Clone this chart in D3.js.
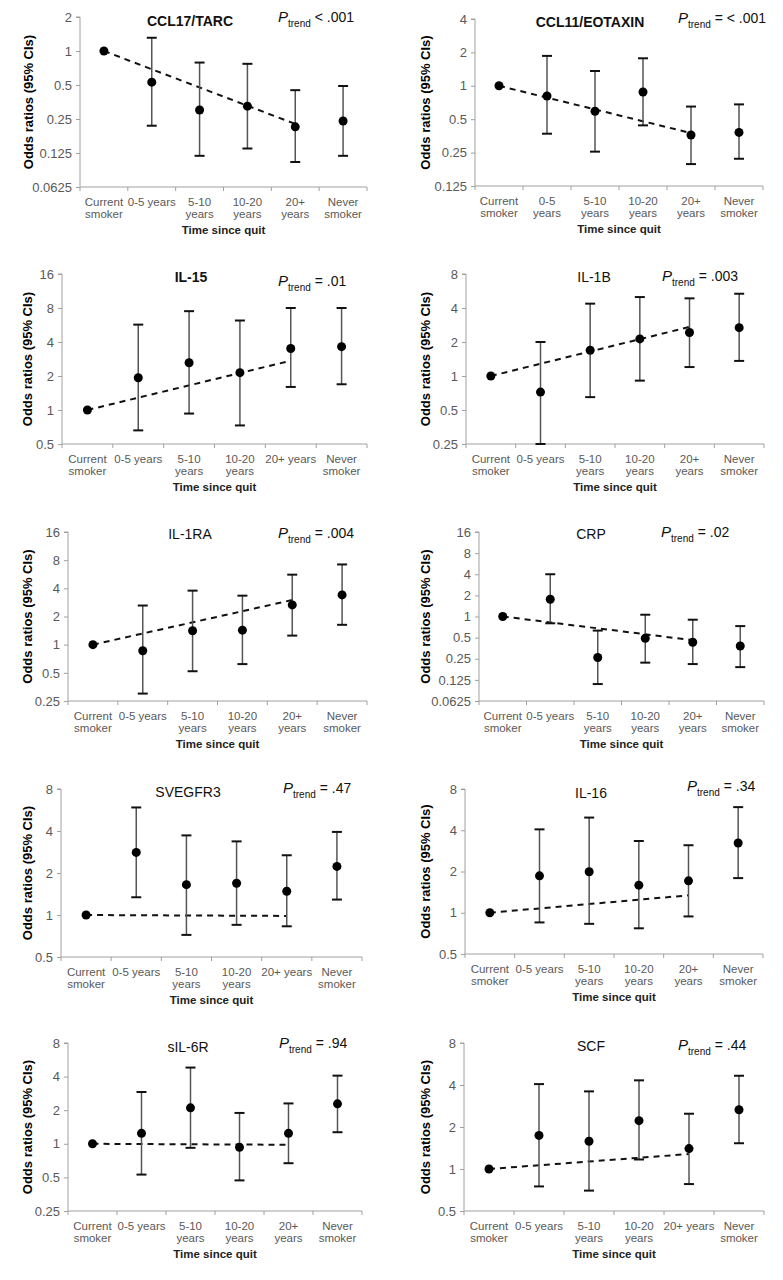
<!DOCTYPE html>
<html><head><meta charset="utf-8">
<script src="https://cdn.jsdelivr.net/npm/d3@7"></script>
<style>body{margin:0;background:#fff}svg{display:block;font-family:"Liberation Sans",Arial,sans-serif}</style>
</head><body><svg id="c" width="783" height="1280"></svg>
<script>
const categories = ["Current smoker","0-5 years","5-10 years","10-20 years","20+ years","Never smoker"];
const tickValues = [0.0625,0.125,0.25,0.5,1,2,4,8,16];
const tickLabels = ["0.0625","0.125","0.25","0.5","1","2","4","8","16"];

const ccl17_or = [1,0.53,0.30,0.325,0.213,0.24];
const ccl17_lo = [null,0.218,0.118,0.137,0.104,0.118];
const ccl17_hi = [null,1.31,0.79,0.77,0.45,0.49];
const ccl17_trend = [1,0.226];

const ccl11_or = [1,0.81,0.59,0.88,0.36,0.38];
const ccl11_lo = [null,0.37,0.255,0.44,0.197,0.22];
const ccl11_hi = [null,1.86,1.36,1.77,0.65,0.68];
const ccl11_trend = [1,0.375];

const il15_or = [1,1.93,2.62,2.14,3.5,3.64];
const il15_lo = [null,0.66,0.93,0.73,1.6,1.69];
const il15_hi = [null,5.7,7.5,6.2,8.0,8.0];
const il15_trend = [1,2.73];

const il1b_or = [1,0.72,1.69,2.13,2.43,2.68];
const il1b_lo = [null,0.25,0.65,0.91,1.2,1.36];
const il1b_hi = [null,2.0,4.37,5.0,4.87,5.35];
const il1b_trend = [1,2.72];

const il1ra_or = [1,0.86,1.41,1.43,2.66,3.4];
const il1ra_lo = [null,0.30,0.52,0.62,1.25,1.63];
const il1ra_hi = [null,2.62,3.78,3.34,5.6,7.2];
const il1ra_trend = [1,3.0];

const crp_or = [1,1.76,0.26,0.49,0.43,0.38];
const crp_lo = [null,0.80,0.109,0.22,0.21,0.19];
const crp_hi = [null,4.0,0.63,1.06,0.90,0.73];
const crp_trend = [1,0.46];

const svegfr3_or = [1,2.81,1.65,1.69,1.48,2.23];
const svegfr3_lo = [null,1.34,0.72,0.85,0.83,1.29];
const svegfr3_hi = [null,5.9,3.72,3.37,2.68,3.94];
const svegfr3_trend = [1,0.985];

const il16_or = [1,1.86,1.99,1.59,1.71,3.23];
const il16_lo = [null,0.85,0.83,0.77,0.94,1.79];
const il16_hi = [null,4.06,4.95,3.34,3.11,5.9];
const il16_trend = [1,1.34];

const sil6r_or = [1,1.24,2.10,0.93,1.24,2.28];
const sil6r_lo = [null,0.53,0.92,0.47,0.67,1.27];
const sil6r_hi = [null,2.91,4.82,1.89,2.3,4.08];
const sil6r_trend = [1,0.98];

const scf_or = [1,1.74,1.58,2.22,1.40,2.66];
const scf_lo = [null,0.75,0.70,1.17,0.78,1.53];
const scf_hi = [null,4.06,3.6,4.32,2.49,4.66];
const scf_trend = [1,1.28];

const names = ["CCL17/TARC","CCL11/EOTAXIN","IL-15","IL-1B","IL-1RA","CRP","SVEGFR3","IL-16","sIL-6R","SCF"];
const pTexts = ["< .001","= < .001","= .01","= .003","= .004","= .02","= .47","= .34","= .94","= .44"];
const yDomains = [[0.0625,2],[0.125,4],[0.5,16],[0.25,8],[0.25,16],[0.0625,16],[0.5,8],[0.5,8],[0.25,8],[0.5,8]];
const singleLine = [["0-5 years"],[],["0-5 years","20+ years"],["0-5 years"],["0-5 years"],["0-5 years"],["0-5 years","20+ years"],["0-5 years"],["0-5 years"],["0-5 years","20+ years"]];

const series = [
  [ccl17_or,ccl17_lo,ccl17_hi,ccl17_trend],
  [ccl11_or,ccl11_lo,ccl11_hi,ccl11_trend],
  [il15_or,il15_lo,il15_hi,il15_trend],
  [il1b_or,il1b_lo,il1b_hi,il1b_trend],
  [il1ra_or,il1ra_lo,il1ra_hi,il1ra_trend],
  [crp_or,crp_lo,crp_hi,crp_trend],
  [svegfr3_or,svegfr3_lo,svegfr3_hi,svegfr3_trend],
  [il16_or,il16_lo,il16_hi,il16_trend],
  [sil6r_or,sil6r_lo,sil6r_hi,sil6r_trend],
  [scf_or,scf_lo,scf_hi,scf_trend]
];

// layout: [left, right, top, bottom, yTitleX, titleX, titleY, pX, pY, bold]
const layout = [
  [80,367,17,187,28,190,26,278,22,true],
  [475,763,19,186,425,590,27,678,23,true],
  [62,367,274,444,27,191,282,278,286,true],
  [466,764,274,444,425,594,282,662,281,false],
  [68,367,532,701,27,190,539,278,538,false],
  [479,764,532,701,425,591,539,661,537,false],
  [61,362,789,957,27,188,797,283,793,false],
  [465,763,789,954,425,591,798,687,791,false],
  [68,362,1043,1211,27,188,1052,279,1048,false],
  [464,764,1043,1211,425,591,1051,678,1050,false]
];

const svg = d3.select("#c");
const axisCol = "#a0a0a0", tickCol = "#595959";

series.forEach((s, i) => {
  const [L,R,T,B,ytx,tx,ty,px,py,bold] = layout[i];
  const [orv, lov, hiv, tr] = s;
  const g = svg.append("g");
  const x = d3.scaleBand().domain(categories).range([L,R]);
  const y = d3.scaleLog().base(2).domain(yDomains[i]).range([B,T]);
  const ticks = tickValues.filter(v => v >= yDomains[i][0] && v <= yDomains[i][1]);

  // y axis
  const ya = d3.axisLeft(y).tickValues(ticks).tickSize(4).tickPadding(4)
    .tickFormat(v => tickLabels[tickValues.indexOf(v)]);
  const yg = g.append("g").attr("transform",`translate(${L},0)`).call(ya);
  yg.select(".domain").attr("stroke",axisCol).attr("d",`M-4,${T}H0V${B}`);
  yg.selectAll(".tick line").attr("stroke",axisCol);
  yg.selectAll(".tick text").attr("fill",tickCol).attr("font-size",13).attr("font-family","Liberation Sans, Arial, sans-serif");

  // x axis (ticks at band boundaries)
  g.append("line").attr("x1",L).attr("x2",R).attr("y1",B).attr("y2",B).attr("stroke",axisCol);
  const bounds = categories.map(c => x(c) + x.bandwidth()).concat([x(categories[0])]);
  g.selectAll(".xt").data(bounds).join("line")
    .attr("x1",d=>d).attr("x2",d=>d).attr("y1",B).attr("y2",B+4).attr("stroke",axisCol);

  // category labels
  categories.forEach(c => {
    const cx = x(c) + x.bandwidth()/2;
    const t = g.append("text").attr("text-anchor","middle").attr("fill",tickCol).attr("font-size",11.5);
    if (singleLine[i].includes(c)) {
      t.append("tspan").attr("x",cx).attr("y",B+19).text(c);
    } else {
      const parts = c.split(" ");
      t.append("tspan").attr("x",cx).attr("y",B+19).text(parts[0]);
      t.append("tspan").attr("x",cx).attr("y",B+31).text(parts.slice(1).join(" "));
    }
  });
  g.append("text").attr("x",(L+R)/2).attr("y",B+47).attr("text-anchor","middle")
    .attr("font-size",11.5).attr("font-weight","bold").attr("fill","#222").text("Time since quit");

  // y title
  g.append("text").attr("transform",`translate(${ytx},${(T+B)/2}) rotate(-90)`)
    .attr("text-anchor","middle").attr("dy","0.35em").attr("font-size",13).attr("font-weight","bold")
    .attr("fill","#000").text("Odds ratios (95% CIs)");

  // title
  g.append("text").attr("x",tx).attr("y",ty).attr("text-anchor","middle").attr("font-size",14)
    .attr("font-weight",bold?"bold":"normal").attr("fill","#111").text(names[i]);

  // P trend
  const pt = g.append("text").attr("x",px).attr("y",py).attr("font-size",14).attr("fill","#111");
  pt.append("tspan").attr("font-style","italic").attr("font-size",15).text("P");
  pt.append("tspan").attr("font-size",10).attr("dy",5).text("trend");
  pt.append("tspan").attr("dy",-5).text(" " + pTexts[i]);

  // trend line
  const cxs = categories.map(c => x(c) + x.bandwidth()/2);
  g.append("line").attr("x1",cxs[0]).attr("x2",cxs[4]).attr("y1",y(tr[0])).attr("y2",y(tr[1]))
    .attr("stroke","#111").attr("stroke-width",2).attr("stroke-dasharray","6,5");

  // error bars
  const idx = d3.range(categories.length).filter(k => lov[k] != null);
  g.selectAll(".eb").data(idx).join("line")
    .attr("x1",k=>cxs[k]).attr("x2",k=>cxs[k]).attr("y1",k=>y(lov[k])).attr("y2",k=>y(hiv[k]))
    .attr("stroke","#555").attr("stroke-width",1.5);
  ["lo","hi"].forEach(w => {
    const arr = w === "lo" ? lov : hiv;
    g.selectAll(".cap"+w).data(idx).join("line")
      .attr("x1",k=>cxs[k]-5).attr("x2",k=>cxs[k]+5).attr("y1",k=>y(arr[k])).attr("y2",k=>y(arr[k]))
      .attr("stroke","#111").attr("stroke-width",2);
  });

  // points
  g.selectAll(".pt").data(orv).join("circle")
    .attr("cx",(d,k)=>cxs[k]).attr("cy",d=>y(d)).attr("r",4.5).attr("fill","#000");
});
</script></body></html>
